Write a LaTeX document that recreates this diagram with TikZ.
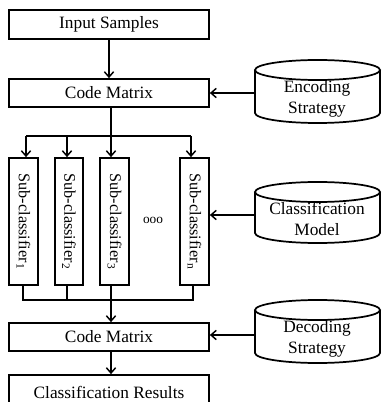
\documentclass[tikz,border=0pt]{standalone}
\usepackage{fontspec}
\setmainfont{Liberation Serif}
\usetikzlibrary{arrows.meta,fit}
\newcommand\drawcyl[4]{% left top right bottom
  \pgfmathsetmacro\cyt{#2+10}\pgfmathsetmacro\cyb{#4-10}\pgfmathsetmacro\cyx{(#1+#3)/2}
  \draw[line] (#1,\cyt) -- (#1,\cyb) arc[start angle=180,end angle=360,x radius=46.875pt,y radius=7.5pt] -- (#3,\cyt);
  \draw[line] (\cyx,\cyt) ellipse [x radius=46.875pt, y radius=7.5pt];
}
\begin{document}
\begin{tikzpicture}[x=0.75pt,y=-0.75pt,
  line/.style={line width=1.3pt},
  box/.style={draw,line width=1.3pt,inner sep=0pt,font=\fontsize{13}{15.5}\selectfont},
  wide/.style={box,minimum width=150pt},
  sub/.style={box,minimum height=95.25pt},
  ghost/.style={inner sep=0pt},
  cyltext/.style={align=center,font=\fontsize{13}{15.5}\selectfont},
  subtext/.style={rotate=-90,font=\fontsize{12.2}{14}\selectfont},
  arr/.style={line width=1.3pt,-{Straight Barb[length=4pt,width=7pt,line width=1.1pt]}}]
\useasboundingbox (0,0) rectangle (381,402);
% main boxes
\node[wide,minimum height=21.75pt] (in) at (109,24.5) {Input Samples};
\node[wide,minimum height=21pt] (cm1) at (109,93) {Code Matrix};
\node[sub,minimum width=21.75pt] (s1) at (23.5,221.5) {};
\node[sub,minimum width=21pt] (s2) at (69,221.5) {};
\node[sub,minimum width=21.75pt] (s3) at (114.5,221.5) {};
\node[sub,minimum width=21.75pt] (sn) at (194.5,221.5) {};
\node[subtext] (t1) at (s1.center) {Sub-classifier\textsubscript{1}};
\node[subtext] (t2) at (s2.center) {Sub-classifier\textsubscript{2}};
\node[subtext] (t3) at (s3.center) {Sub-classifier\textsubscript{3}};
\node[subtext] (tn) at (sn.center) {Sub-classifier\textsubscript{n}};
\node[font=\fontsize{10}{12}\selectfont,inner sep=0pt] (dots) at (153,220) {ooo};
\node[wide,minimum height=21pt] (cm2) at (109,337) {Code Matrix};
\node[wide,minimum height=25.5pt] (res) at (109,392) {Classification Results};
% cylinders
\drawcyl{255}{60}{380}{123}
\node[ghost,fit={(255,60) (380,123)}] (enc) {};
\node[cyltext] (enct) at (317,99) {Encoding\\Strategy};
\drawcyl{255}{182}{380}{243}
\node[ghost,fit={(255,182) (380,243)}] (cls) {};
\node[cyltext] (clst) at (317,219) {Classification\\Model};
\drawcyl{255}{300}{380}{363}
\node[ghost,fit={(255,300) (380,363)}] (dec) {};
\node[cyltext] (dect) at (317,339) {Decoding\\Strategy};
% connectors
\draw[arr] (in) -- (cm1);
\coordinate (bt) at (111,136);
\draw[line] (cm1.south -| bt) -- (bt);
\coordinate (b1) at (26,136);
\coordinate (b2) at (67,136);
\coordinate (b3) at (111,136);
\coordinate (bn) at (191,136);
\draw[line] (b1) -- (bn);
\draw[arr] (b1) -- (b1 |- s1.north);
\draw[arr] (b2) -- (b2 |- s2.north);
\draw[arr] (b3) -- (b3 |- s3.north);
\draw[arr] (bn) -- (bn |- sn.north);
\coordinate (c1) at (23,300);
\coordinate (c2) at (67,300);
\coordinate (c3) at (111,300);
\coordinate (cn) at (193,300);
\draw[line] (c1 |- s1.south) -- (c1) -- (cn) -- (cn |- sn.south);
\draw[line] (c2 |- s2.south) -- (c2);
\draw[line] (c3 |- s3.south) -- (c3);
\draw[arr] (c3) -- (c3 |- cm2.north);
\draw[arr] (cm2.south -| c3) -- (res.north -| c3);
\coordinate (e1) at (255,93);
\draw[arr] (e1) -- (e1 -| cm1.east);
\coordinate (e2) at (255,215);
\draw[arr] (e2) -- (e2 -| sn.east);
\coordinate (e3) at (255,335);
\draw[arr] (e3) -- (e3 -| cm2.east);
\end{tikzpicture}
\end{document}
